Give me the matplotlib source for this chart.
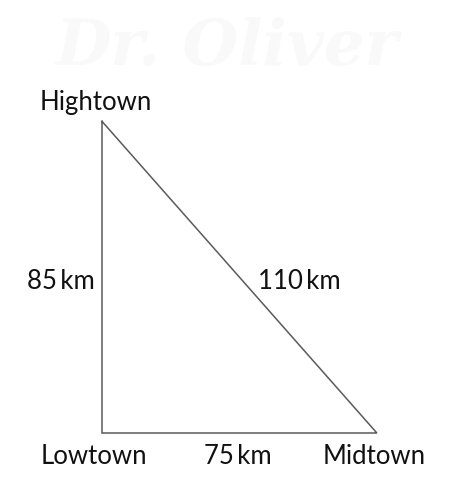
import matplotlib
matplotlib.use("Agg")
import matplotlib.pyplot as plt

# Data
towns = ["Hightown", "Lowtown", "Midtown"]
leg_vertical_km = 85      # Lowtown - Hightown
leg_horizontal_km = 75    # Lowtown - Midtown
hypotenuse_km = 110       # Hightown - Midtown
side_labels = ["85\u2009km", "75\u2009km", "110\u2009km"]

plt.rcParams['font.family'] = ['Lato', 'DejaVu Sans']

fig = plt.figure(figsize=(4.57, 4.99), dpi=100)
ax = fig.add_axes([0, 0, 1, 1])
ax.set_xlim(-27.83, 96.86)
ax.set_ylim(-18.0, 118.1)
ax.axis('off')

# watermark
ax.text(34, 105, "Dr. Oliver", fontsize=46, style='italic', fontweight='bold',
        color='#f9f9f9', ha='center', va='center', family=['DejaVu Serif'], zorder=0)

# vertices in km
low = (0, 0)
mid = (leg_horizontal_km, 0)
high = (0, leg_vertical_km)

xs = [high[0], low[0], mid[0], high[0]]
ys = [high[1], low[1], mid[1], high[1]]
ax.plot(xs, ys, color='#5a5a5a', lw=1.1, solid_joinstyle='miter', zorder=2)

fs = 18.5
tc = '#111111'
ax.text(high[0] - 1.6, high[1] + 3.1, towns[0], fontsize=fs, color=tc, ha='center', va='baseline')
ax.text(low[0] - 2.2, low[1] - 8.4, towns[1], fontsize=fs, color=tc, ha='center', va='baseline')
ax.text(mid[0] - 0.8, mid[1] - 8.4, towns[2], fontsize=fs, color=tc, ha='center', va='baseline')

ax.text(-1.9, 39.3, side_labels[0], fontsize=fs, color=tc, ha='right', va='baseline')
ax.text(37.0, -8.4, side_labels[1], fontsize=fs, color=tc, ha='center', va='baseline')
ax.text(42.6, 39.3, side_labels[2], fontsize=fs, color=tc, ha='left', va='baseline')

fig.savefig("out.png", dpi=100, facecolor='white')
